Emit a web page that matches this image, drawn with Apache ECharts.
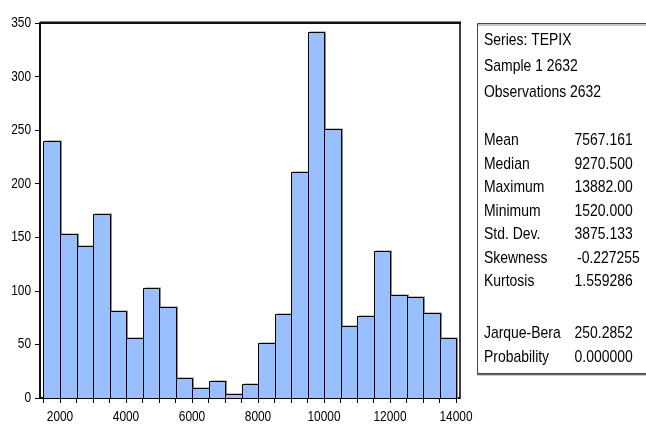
<!DOCTYPE html>
<html><head><meta charset="utf-8">
<script src="https://cdn.jsdelivr.net/npm/echarts@6/dist/echarts.min.js"></script>
<style>html,body{margin:0;padding:0;background:#fff}#c{width:646px;height:424px}</style>
</head><body><div id="c"></div>
<script>
// Histogram bins (lower edge, width 500) and counts
var binStarts = [1500,2000,2500,3000,3500,4000,4500,5000,5500,6000,6500,7000,7500,8000,8500,9000,9500,10000,10500,11000,11500,12000,12500,13000,13500];
var binWidth = 500;
var counts = [240,153,142,172,81,56,103,85,19,9,16,4,13,51,78,211,342,251,67,77,137,96,94,79,56];
var xTickLabels = [2000,4000,6000,8000,10000,12000,14000];
var yTicks = [0,50,100,150,200,250,300,350];
var headerLines = ["Series: TEPIX","Sample 1 2632","Observations 2632"];
var statsLabels = ["Mean","Median","Maximum","Minimum","Std. Dev.","Skewness","Kurtosis"];
var statsValues = ["7567.161","9270.500","13882.00","1520.000","3875.133","-0.227255","1.559286"];
var testLabels = ["Jarque-Bera","Probability"];
var testValues = ["250.2852","0.000000"];

var FONT = "'Liberation Sans',Arial,sans-serif";
var NARROW = 0.82;
var tickVals = binStarts.concat([binStarts[binStarts.length-1]+binWidth]);
var data = binStarts.map(function(s,i){ return [s, s+binWidth, counts[i]]; });
var xMin = 2000-20/33*1000, xMax = 14000+4/33*1000;

var chart = echarts.init(document.getElementById('c'), null, {renderer:'canvas'});
chart.setOption({
  animation:false,
  backgroundColor:'#fff',
  grid:{left:40, top:23, width:420, height:375, show:true, borderColor:'#000', borderWidth:1.5, backgroundColor:'transparent'},
  xAxis:{
    type:'value', min:xMin, max:xMax,
    axisLine:{show:true, lineStyle:{color:'#000', width:1.5}},
    axisTick:{show:true, length:5, customValues:tickVals, lineStyle:{color:'#000'}},
    axisLabel:{show:false},
    splitLine:{show:false}
  },
  yAxis:{
    type:'value', min:0, max:350, interval:50,
    axisLine:{show:true, lineStyle:{color:'#000', width:1.5}},
    axisTick:{show:true, length:5, lineStyle:{color:'#000'}},
    axisLabel:{show:false},
    splitLine:{show:false}
  },
  series:[{
    type:'custom',
    data:data,
    encode:{x:[0,1], y:2},
    renderItem:function(params, api){
      var p0 = api.coord([api.value(0), api.value(2)]);
      var p1 = api.coord([api.value(1), 0]);
      var x = Math.round(p0[0])+0.5, y = Math.round(p0[1])+0.5;
      var w = Math.round(p1[0]) - Math.round(p0[0]);
      var h = Math.round(p1[1]) - Math.round(p0[1]);
      return {type:'group', children:[
        {type:'rect', shape:{x:x+1.5, y:y-1, width:w, height:h+1}, style:{fill:'#8a8a8a'}},
        {type:'rect', shape:{x:x, y:y, width:w, height:h}, style:{fill:'#99BFFF', stroke:'#000', lineWidth:1}}
      ]};
    }
  }]
});

var graphics = [];
function txt(x, y, t, size, align){
  graphics.push({type:'text', x:x, y:y, scaleX:NARROW, z:10,
    style:{text:t, font:size+'px '+FONT, fill:'#000', textAlign:align||'left', textVerticalAlign:'middle'}});
}
// plot frame top edge (solid band)
var tl = chart.convertToPixel({gridIndex:0}, [xMin, 350]);
var br = chart.convertToPixel({gridIndex:0}, [xMax, 0]);
graphics.push({type:'rect', z:8, shape:{x:tl[0], y:tl[1]-1.5, width:br[0]-tl[0]+1, height:2.5},
  style:{fill:'#111'}});
// axis tick labels (narrow face emulated)
xTickLabels.forEach(function(v){
  var px = chart.convertToPixel({xAxisIndex:0}, v);
  txt(px, 417, String(v), 14.5, 'center');
});
yTicks.forEach(function(v){
  var py = chart.convertToPixel({yAxisIndex:0}, v);
  txt(31, py, String(v), 14.5, 'right');
});
// statistics box
graphics.push({type:'rect', shape:{x:477.5,y:23.5,width:175,height:350}, z:5,
  style:{fill:'#fff',stroke:'#444',lineWidth:1, shadowColor:'rgba(0,0,0,0.45)', shadowOffsetX:0, shadowOffsetY:1.5, shadowBlur:0}});
var headerY = [40, 66, 92];
headerLines.forEach(function(t,i){ txt(484, headerY[i], t, 17); });
var statsY = [140.5, 164, 187.5, 211, 234.5, 258, 281.5];
statsLabels.forEach(function(t,i){ txt(484, statsY[i], t, 17); txt(i===5?577:574.5, statsY[i], statsValues[i], 17); });
var testY = [333.5, 357];
testLabels.forEach(function(t,i){ txt(484, testY[i], t, 17); txt(574.5, testY[i], testValues[i], 17); });
chart.setOption({graphic:graphics});
</script></body></html>
